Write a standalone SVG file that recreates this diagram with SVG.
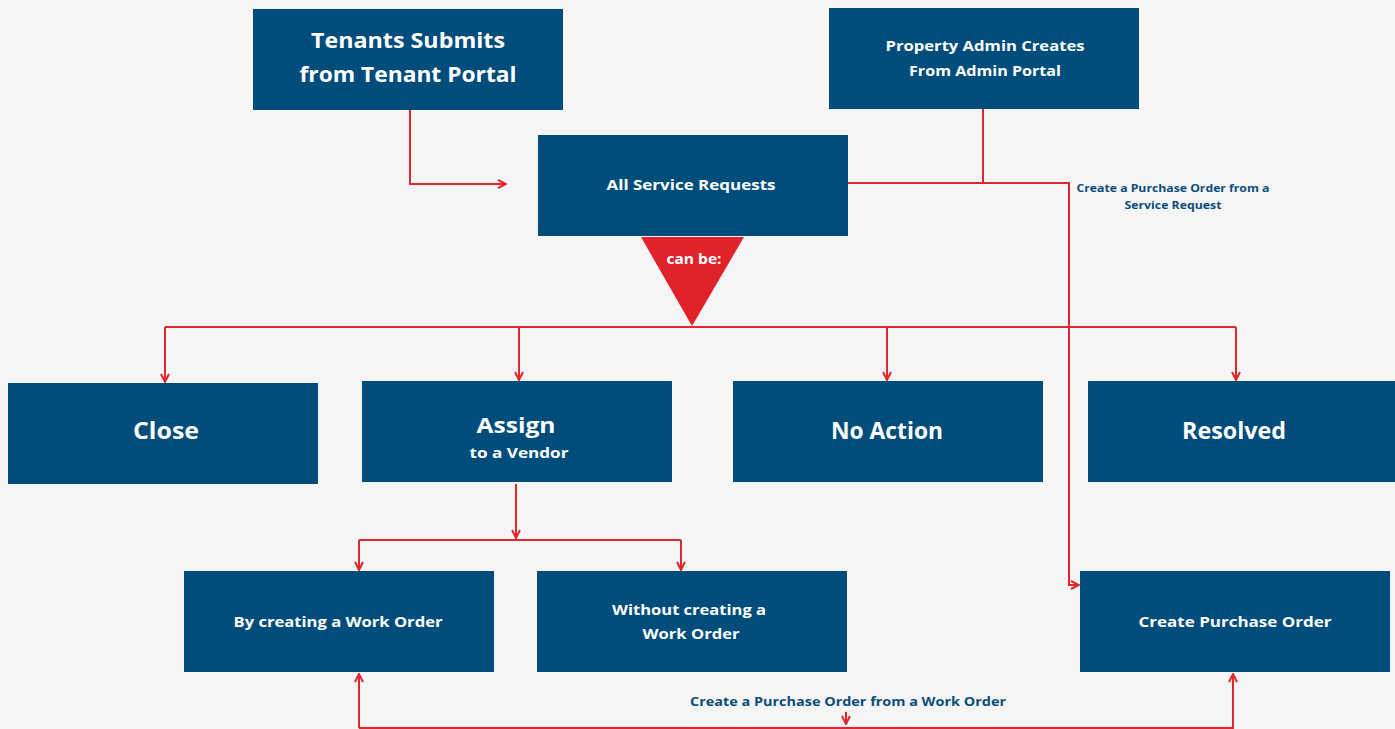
<svg xmlns="http://www.w3.org/2000/svg" width="1395" height="729" viewBox="0 0 1395 729">
<defs>
<marker id="ah" viewBox="0 0 10 10" refX="9" refY="5" markerWidth="10" markerHeight="10" markerUnits="userSpaceOnUse" orient="auto">
<path d="M1,1 L9,5 L1,9" fill="none" stroke="#e0262d" stroke-width="2"/>
</marker>
<style>
.n{fill:#004d7b}
.t{font-family:"Open Sans",Lato,sans-serif;font-weight:700;fill:#fff;text-anchor:middle}
.c{fill:none;stroke:#e0262d;stroke-width:2}
.l{font-family:"Open Sans",Lato,sans-serif;font-weight:700;fill:#0a4d7a;text-anchor:middle}
</style>
</defs>
<rect width="1395" height="729" fill="#f5f5f5"/>
<g id="connectors">
<path class="c" d="M410,110 V184 H506" marker-end="url(#ah)"/>
<path class="c" d="M983,109 V183"/>
<path class="c" d="M848,183 H1069 V585 H1079" marker-end="url(#ah)"/>
<path class="c" d="M165,327 H1236"/>
<path class="c" d="M165,327 V382" marker-end="url(#ah)"/>
<path class="c" d="M519,327 V380" marker-end="url(#ah)"/>
<path class="c" d="M887,327 V380" marker-end="url(#ah)"/>
<path class="c" d="M1236,327 V380" marker-end="url(#ah)"/>
<path class="c" d="M516,484 V538" marker-end="url(#ah)"/>
<path class="c" d="M359,540 H681"/>
<path class="c" d="M359,540 V570" marker-end="url(#ah)"/>
<path class="c" d="M681,540 V570" marker-end="url(#ah)"/>
<path class="c" d="M359,728 V674" marker-end="url(#ah)"/>
<path class="c" d="M359,728 H1233 V674" marker-end="url(#ah)"/>
<path class="c" d="M846,712 V724" marker-end="url(#ah)"/>
</g>
<g id="tenants"><rect class="n" x="253" y="9" width="310" height="101"/><text class="t" x="408" y="48" font-size="22" textLength="194" lengthAdjust="spacingAndGlyphs">Tenants Submits</text><text class="t" x="408" y="82" font-size="22" textLength="217" lengthAdjust="spacingAndGlyphs">from Tenant Portal</text></g>
<g id="admin"><rect class="n" x="829" y="8" width="310" height="101"/><text class="t" x="985" y="51" font-size="15" textLength="199" lengthAdjust="spacingAndGlyphs">Property Admin Creates</text><text class="t" x="985" y="76" font-size="15" textLength="152" lengthAdjust="spacingAndGlyphs">From Admin Portal</text></g>
<g id="all-sr"><rect class="n" x="538" y="135" width="310" height="101"/><text class="t" x="691" y="190" font-size="15" textLength="169" lengthAdjust="spacingAndGlyphs">All Service Requests</text></g>
<g id="canbe"><polygon points="641,237 744,237 692,326" fill="#e0222b"/><text class="t" x="694" y="264" font-size="14" textLength="55" lengthAdjust="spacingAndGlyphs">can be:</text></g>
<g id="close"><rect class="n" x="8" y="383" width="310" height="101"/><text class="t" x="166" y="439" font-size="24" textLength="66" lengthAdjust="spacingAndGlyphs">Close</text></g>
<g id="assign"><rect class="n" x="362" y="381" width="310" height="101"/><text class="t" x="516" y="433" font-size="22" textLength="79" lengthAdjust="spacingAndGlyphs">Assign</text><text class="t" x="519" y="458" font-size="15" textLength="99" lengthAdjust="spacingAndGlyphs">to a Vendor</text></g>
<g id="noaction"><rect class="n" x="733" y="381" width="310" height="101"/><text class="t" x="887" y="439" font-size="24" textLength="112" lengthAdjust="spacingAndGlyphs">No Action</text></g>
<g id="resolved"><rect class="n" x="1088" y="381" width="310" height="101"/><text class="t" x="1234" y="439" font-size="24" textLength="104" lengthAdjust="spacingAndGlyphs">Resolved</text></g>
<g id="with-wo"><rect class="n" x="184" y="571" width="310" height="101"/><text class="t" x="338" y="627" font-size="15" textLength="209" lengthAdjust="spacingAndGlyphs">By creating a Work Order</text></g>
<g id="without-wo"><rect class="n" x="537" y="571" width="310" height="101"/><text class="t" x="689" y="615" font-size="15" textLength="154" lengthAdjust="spacingAndGlyphs">Without creating a</text><text class="t" x="691" y="639" font-size="15" textLength="97" lengthAdjust="spacingAndGlyphs">Work Order</text></g>
<g id="create-po"><rect class="n" x="1080" y="571" width="310" height="101"/><text class="t" x="1235" y="627" font-size="15" textLength="193" lengthAdjust="spacingAndGlyphs">Create Purchase Order</text></g>
<g id="labels">
<text class="l" x="1173" y="192" font-size="11" textLength="193" lengthAdjust="spacingAndGlyphs">Create a Purchase Order from a</text>
<text class="l" x="1173" y="209" font-size="11" textLength="97" lengthAdjust="spacingAndGlyphs">Service Request</text>
<text class="l" x="848" y="706" font-size="13" textLength="316" lengthAdjust="spacingAndGlyphs">Create a Purchase Order from a Work Order</text>
</g>
</svg>
